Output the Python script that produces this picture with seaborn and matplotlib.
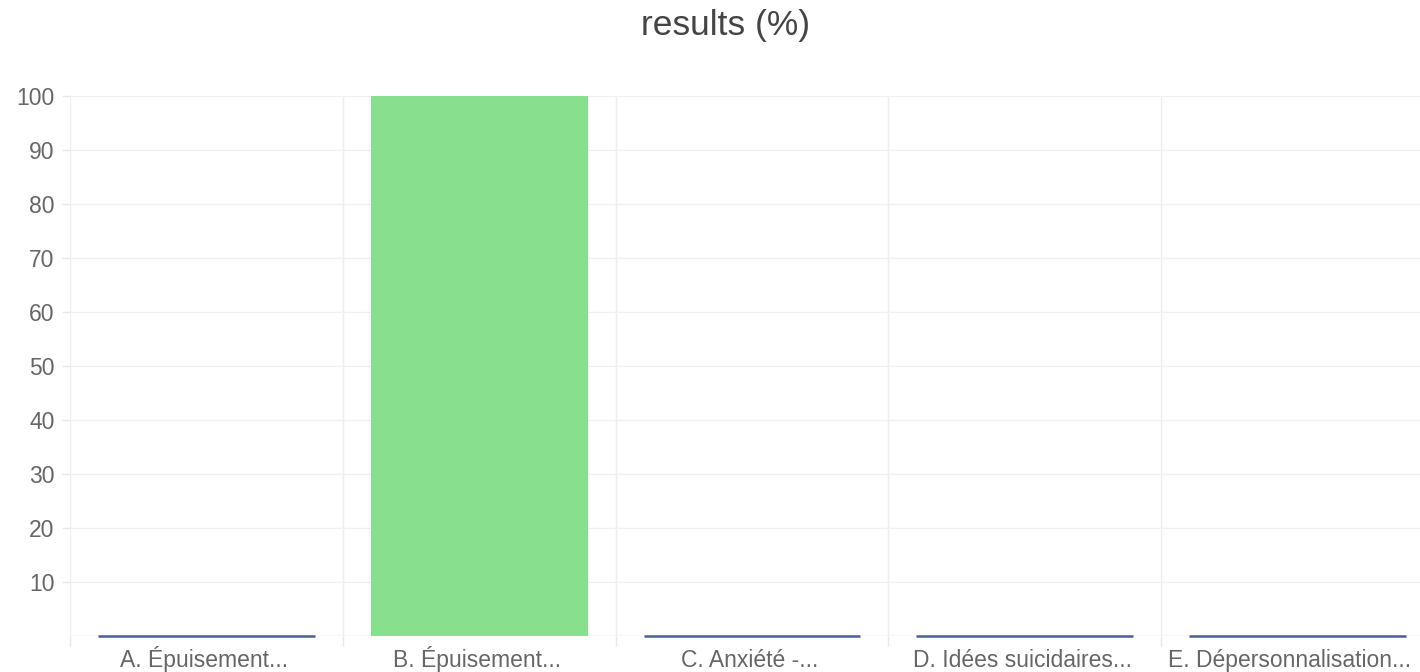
import matplotlib
matplotlib.use("Agg")
import matplotlib.pyplot as plt
import matplotlib.transforms as mtrans
import seaborn as sns
import pandas as pd

categories = ["A. Épuisement...", "B. Épuisement...", "C. Anxiété -...",
              "D. Idées suicidaires...", "E. Dépersonnalisation..."]
values = [0, 100, 0, 0, 0]
bar_colors = ["#4a5f94", "#88e08e", "#4a5f94", "#4a5f94", "#4a5f94"]
y_ticks = [10, 20, 30, 40, 50, 60, 70, 80, 90, 100]
title = "results (%)"

sns.set_theme(style="white")
plt.rcParams['font.family'] = ['Liberation Sans', 'DejaVu Sans']

fig = plt.figure(figsize=(14.2, 6.72), dpi=100)
W, H = 1420, 672
left, right, top, bottom = 70, 1434, 96, 636
ax = fig.add_axes([left / W, 1 - bottom / H, (right - left) / W, (bottom - top) / H])

df = pd.DataFrame({"cat": categories, "val": values})
sns.barplot(data=df, x="cat", y="val", hue="cat", palette=dict(zip(categories, bar_colors)),
            order=categories, hue_order=categories, legend=False, width=0.795,
            saturation=1, ax=ax, zorder=3)
for p, c, v in zip(ax.patches, bar_colors, values):
    p.set_edgecolor(c)
    p.set_linewidth(1.8 if v == 0 else 0)
    p.set_facecolor(c)
    p.set_clip_on(False)
    p.set_zorder(5)

ax.set_ylim(0, 100)
ax.set_xlim(-0.5, len(categories) - 0.5)
ax.set_yticks(y_ticks)
ax.set_yticklabels([str(t) for t in y_ticks])
ax.tick_params(axis="y", length=6, color="#e8e8e8", width=1, labelcolor="#666666",
               labelsize=16.5, pad=5, left=True)
ax.tick_params(axis="x", length=0, labelcolor="#666666", labelsize=16.5, pad=0, bottom=False)
bounds = [i - 0.5 for i in range(len(categories) + 1)]
ax.set_xticks(bounds, minor=True)
ax.tick_params(axis="x", which="minor", length=7, color="#e8e8e8", width=1, bottom=True)
ax.grid(True, axis="y", color="#f0f0f0", linewidth=1)
ax.grid(True, axis="x", which="minor", color="#eeeeee", linewidth=1)
ax.set_axisbelow(True)
ax.axhline(0, color="#e4e4e4", linewidth=1, zorder=1)
for s in ax.spines.values():
    s.set_visible(False)
ax.set_xlabel("")
ax.set_ylabel("")

# align x labels on a common baseline
for i, lab in enumerate(ax.get_xticklabels()):
    lab.set_va("baseline")
    dx = -8 if i == len(categories) - 1 else -2
    lab.set_transform(lab.get_transform() + mtrans.ScaledTranslation(dx / 100, -31 / 100, fig.dpi_scale_trans))

fig.text(726 / W, 1 - 26 / H, title, ha="center", va="center", fontsize=25.5, color="#444444")

fig.savefig("out.png", dpi=100)
